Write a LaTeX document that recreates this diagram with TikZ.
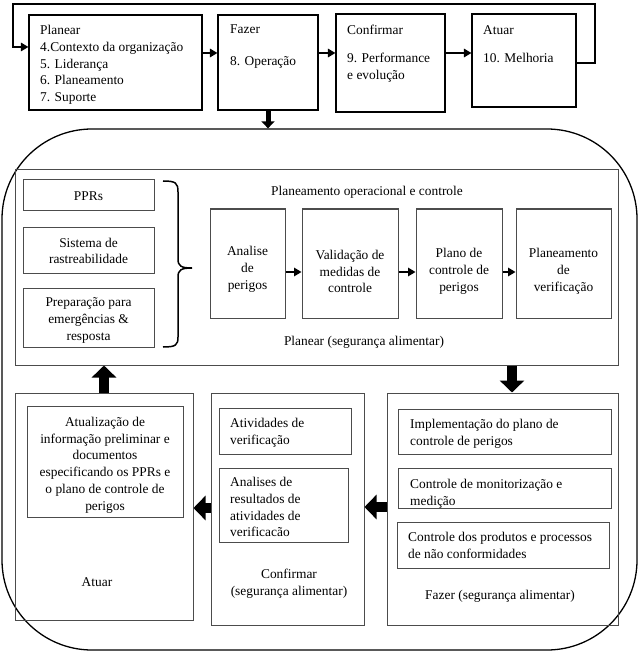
\documentclass[tikz,border=0pt]{standalone}
\usepackage{fontspec}
\setmainfont{Liberation Serif}
\usetikzlibrary{arrows.meta,fit,calc}
\begin{document}
\begin{tikzpicture}[x=1pt,y=-1pt,
  every node/.style={font=\fontsize{13.4}{16.8}\selectfont, inner sep=0pt},
  topbox/.style={draw=black, line width=1.2pt},
  panel/.style={draw=black!70, line width=1pt},
  ibox/.style={draw=black!70, line width=1pt},
  txt/.style={align=left, anchor=north west},
  lbl/.style={align=center},
  flow/.style={line width=1.6pt, -{Triangle[width=8.5pt,length=7.5pt]}},
  bigarrow/.style={line width=10pt, -{Triangle[width=24pt,length=12pt]}},
]
\useasboundingbox (0,0) rectangle (642,652);

% big rounded frame
\node[draw=black, line width=1.3pt, rounded corners=90pt, fit={(2,129)(637,650)}] (R) {};

% top row
\node[topbox, fit={(29,15)(202,110)}] (P) {};
\node[txt] (Pt) at (40,25) {Planear\\4.Contexto da organização\\5. Liderança\\6. Planeamento\\7. Suporte};
\node[topbox, fit={(218,15)(318,110)}] (F) {};
\node[txt] (Ft) at (230,25) {Fazer};
\node[txt] (Ft2) at (230,56) {8. Operação};
\node[topbox, fit={(336,14)(445,112)}] (C) {};
\node[txt] (Ct) at (347,25) {Confirmar};
\node[txt] (Ct2) at (347,53) {9. Performance\\e evolução};
\node[topbox, fit={(472,14)(576,107)}] (A) {};
\node[txt] (At) at (483,25) {Atuar};
\node[txt] (At2) at (483,53) {10. Melhoria};

\draw[flow] (P.east |- 0,53) -- (F.west |- 0,53);
\draw[flow] (F.east |- 0,53) -- (C.west |- 0,53);
\draw[flow] (C.east |- 0,53) -- (A.west |- 0,53);
\draw[line width=1.5pt, -{Triangle[width=8.5pt,length=7.5pt]}] (A.east |- 0,63) -- (595,63) -- (595,4) -- (13,4) -- (13,47) -- (P.west |- 0,47);
\draw[line width=5pt, -{Triangle[width=13pt,length=7pt]}] (F.south) -- (F.south |- R.north);

% Planear panel
\node[panel, fit={(15,170)(618,365)}] (PP) {};
\node[ibox, fit={(23,180)(154,210)}] (b1) {};
\node[lbl] (b1t) at (88.5,196.5) {PPRs};
\node[ibox, fit={(23,227)(154,273)}] (b2) {};
\node[lbl] (b2t) at (88.5,251) {Sistema de\\rastreabilidade};
\node[ibox, fit={(23,288)(154,347)}] (b3) {};
\node[lbl] (b3t) at (88.5,320.5) {Preparação para\\emergências \&\\resposta};
\draw[line width=1.5pt] (163,181) .. controls (176,181) and (178,183) .. (178,192) -- (178,259)
  .. controls (178,266) and (181,268) .. (192,268)
  .. controls (181,268) and (178,270) .. (178,277) -- (178,337)
  .. controls (178,345) and (176,347) .. (163,347);
\node[lbl] (l1) at (367,192) {Planeamento operacional e controle};
\node[lbl] (l2) at (364,342.5) {Planear (segurança alimentar)};
\node[ibox, fit={(210,209)(285,318)}] (s1) {};
\node[lbl] (s1t) at (247.5,269.5) {Analise\\de\\perigos};
\node[ibox, fit={(302,209)(398,318)}] (s2) {};
\node[lbl] (s2t) at (350,271.5) {Validação de\\medidas de\\controle};
\node[ibox, fit={(416,209)(502,318)}] (s3) {};
\node[lbl] (s3t) at (459,271.5) {Plano de\\controle de\\perigos};
\node[ibox, fit={(516,209)(611,318)}] (s4) {};
\node[lbl] (s4t) at (563.5,271.5) {Planeamento\\de\\verificação};
\draw[flow] (s1.east |- 0,272) -- (s2.west |- 0,272);
\draw[flow] (s2.east |- 0,272) -- (s3.west |- 0,272);
\draw[flow] (s3.east |- 0,272) -- (s4.west |- 0,272);

% Atuar panel
\node[panel, fit={(15,393)(193,620)}] (AP) {};
\node[ibox, fit={(27,406)(183,517)}] (a1) {};
\node[lbl] (a1t) at (105,465) {Atualização de\\informação preliminar e\\documentos\\especificando os PPRs e\\o plano de controle de\\perigos};
\node[lbl] (al) at (97,582.5) {Atuar};

% Confirmar panel
\node[panel, fit={(211,393)(364,625)}] (CP) {};
\node[ibox, fit={(219,408)(351,454)}] (c1) {};
\node[txt] (c1t) at (230,418) {Atividades de\\verificação};
\node[ibox, fit={(219,468)(348,542)}] (c2) {};
\node[txt] (c2t) at (230,477) {Analises de\\resultados de\\atividades de\\verificacão};
\node[lbl] (cl) at (289,583.5) {Confirmar\\(segurança alimentar)};

% Fazer panel
\node[panel, fit={(387,393)(618,625)}] (FP) {};
\node[ibox, fit={(398,409)(611,454)}] (f1) {};
\node[txt] (f1t) at (410,419) {Implementação do plano de\\controle de perigos};
\node[ibox, fit={(398,468)(611,508)}] (f2) {};
\begin{scope}
  \clip (f2.north west) rectangle (f2.south east);
  \node[txt] (f2t) at (410,479) {Controle de monitorização e\\medição};
\end{scope}
\node[ibox, fit={(397,522)(609,568)}] (f3) {};
\node[txt] (f3t) at (408,532) {Controle dos produtos e processos\\de não conformidades};
\node[lbl] (fl) at (500,596.5) {Fazer (segurança alimentar)};

% big arrows
\coordinate (fx) at (512,0);
\draw[bigarrow] (AP.north) -- (AP.north |- PP.south);
\draw[bigarrow] (PP.south -| fx) -- (FP.north -| fx);
\draw[bigarrow] (FP.west |- 0,507) -- (CP.east |- 0,507);
\draw[bigarrow] (CP.west |- 0,508) -- (AP.east |- 0,508);
\end{tikzpicture}
\end{document}
